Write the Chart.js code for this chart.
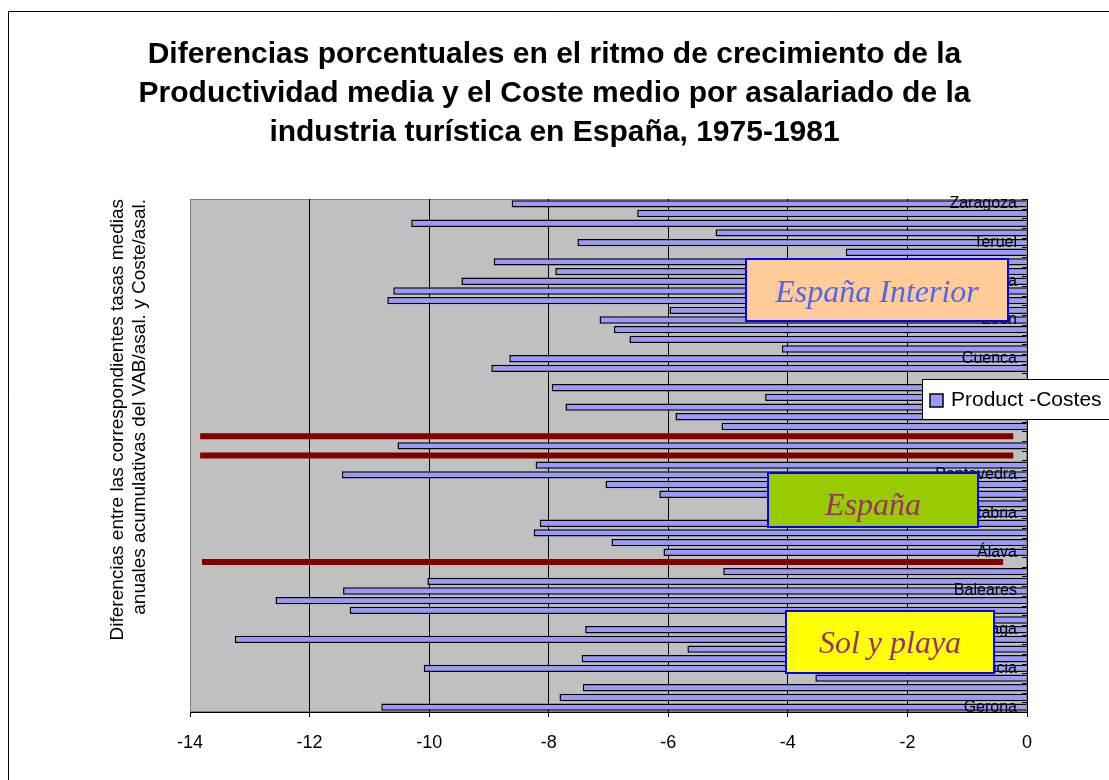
<!DOCTYPE html>
<html><head><meta charset="utf-8">
<script src="https://cdn.jsdelivr.net/npm/chart.js@4.4.0/dist/chart.umd.min.js"></script>
<style>html,body{margin:0;padding:0;background:#fff;}canvas{display:block;}</style>
</head><body>
<canvas id="c" width="1109" height="780"></canvas>
<script>
// ---- data (category index 0 = bottom of the chart, as in the original) ----
const categories = [
  'Gerona','Barcelona','Tarragona','Castellón','Valencia','Alicante','Murcia','Almería','Málaga','Cádiz',
  'Huelva','Las Palmas','Baleares','S.C. Tenerife','Granada','','Álava','Vizcaya','Guipúzcoa','Asturias',
  'Cantabria','Lugo','La Coruña','Orense','Pontevedra','Navarra','','España','','La Rioja',
  'Madrid','Toledo','Ciudad Real','Albacete','','Guadalajara','Cuenca','Valladolid','Palencia','Burgos',
  'León','Zamora','Salamanca','Ávila','Segovia','Soria','Cáceres','Badajoz','Teruel','Jaén',
  'Córdoba','Huesca','Zaragoza'
];
const productCostes = [
  -10.80, -7.82, -7.43, -3.54, -10.09, -7.45, -5.68, -13.25, -7.39, -2.60,
  -11.33, -12.57, -11.44, -10.03, -5.08, null, -6.08, -6.95, -8.25, -8.15,
  -2.20, -3.00, -6.15, -7.05, -11.46, -8.22, null, -10.53, null, -5.11,
  -5.88, -7.72, -4.38, -7.95, null, -8.96, -8.66, -4.10, -6.65, -6.91,
  -7.15, -5.98, -10.70, -10.60, -9.46, -7.89, -8.92, -3.03, -7.52, -5.21,
  -10.30, -6.52, -8.62
];
const separatorSpans = categories.map(() => null);
separatorSpans[15] = [-13.80, -0.40];
separatorSpans[26] = [-13.83, -0.23];
separatorSpans[28] = [-13.83, -0.23];
const xTickValues = [-14, -12, -10, -8, -6, -4, -2, 0];
const labelEvery = 4;
const seriesLabel = 'Product -Costes';
const titleLines = [
  'Diferencias porcentuales en el ritmo de crecimiento de la',
  'Productividad media y el Coste medio por asalariado de la',
  'industria turística en España, 1975-1981'
];
const axisTitleLines = [
  'Diferencias entre las correspondientes tasas medias',
  'anuales acumulativas del VAB/asal. y Coste/asal.'
];
const groupBoxes = [
  {text: 'España Interior', fill: '#FFCC99', color: '#5066F0', x0: 746, y0: 259, x1: 1008, y1: 321, dy: 12},
  {text: 'España', fill: '#99CC00', color: '#993366', x0: 768, y0: 473, x1: 978, y1: 527, dy: 15},
  {text: 'Sol y playa', fill: '#FFFF00', color: '#993366', x0: 786, y0: 611, x1: 994, y1: 673, dy: 11}
];

const SANS = '"Liberation Sans", Arial, Helvetica, sans-serif';
const SERIF = '"Liberation Serif", "Times New Roman", serif';

const decor = {
  id: 'decor',
  beforeDraw(chart) {
    const {ctx, chartArea: a} = chart;
    ctx.save();
    ctx.strokeStyle = '#000'; ctx.lineWidth = 1;
    ctx.beginPath(); ctx.moveTo(8.5, 780); ctx.lineTo(8.5, 11.5); ctx.lineTo(1109, 11.5); ctx.stroke();
    ctx.fillStyle = '#C0C0C0';
    ctx.fillRect(a.left, a.top, a.right - a.left, a.bottom - a.top);
    ctx.strokeStyle = '#808080';
    ctx.strokeRect(a.left + 0.5, a.top + 0.5, a.right - a.left - 1, a.bottom - a.top - 1);
    ctx.restore();
  },
  afterDraw(chart) {
    const {ctx, chartArea: a} = chart;
    const n = categories.length;
    ctx.save();
    // inner tick marks on the category axis
    ctx.strokeStyle = '#000'; ctx.lineWidth = 1;
    const step = (a.bottom - a.top) / n;
    ctx.beginPath();
    for (let k = 0; k <= n; k++) {
      const y = Math.round(a.top + k * step) + 0.5;
      ctx.moveTo(a.right - 5, y); ctx.lineTo(a.right, y);
    }
    ctx.stroke();
    // group text boxes
    groupBoxes.forEach(b => {
      ctx.save();
      ctx.fillStyle = b.fill;
      ctx.fillRect(b.x0, b.y0, b.x1 - b.x0, b.y1 - b.y0);
      ctx.beginPath(); ctx.rect(b.x0, b.y0, b.x1 - b.x0, b.y1 - b.y0); ctx.clip();
      ctx.fillStyle = b.color;
      ctx.font = 'italic 32px ' + SERIF;
      ctx.textAlign = 'center'; ctx.textBaseline = 'alphabetic';
      ctx.fillText(b.text, (b.x0 + b.x1) / 2, (b.y0 + b.y1) / 2 + b.dy);
      ctx.restore();
      ctx.strokeStyle = '#0000FF'; ctx.lineWidth = 2;
      ctx.strokeRect(b.x0, b.y0, b.x1 - b.x0, b.y1 - b.y0);
    });
    // legend
    ctx.fillStyle = '#fff';
    ctx.fillRect(922, 379, 200, 40);
    ctx.strokeStyle = '#000'; ctx.lineWidth = 1;
    ctx.strokeRect(922.5, 379.5, 200, 40);
    ctx.fillStyle = '#9999FF';
    ctx.fillRect(930, 394, 13, 13);
    ctx.lineWidth = 1.5;
    ctx.strokeRect(930, 394, 13, 13);
    ctx.fillStyle = '#000';
    ctx.font = '21px ' + SANS;
    ctx.textAlign = 'left'; ctx.textBaseline = 'middle';
    ctx.fillText(chart.data.datasets[0].label, 951, 400);
    ctx.restore();
  }
};

new Chart(document.getElementById('c'), {
  type: 'bar',
  data: {
    labels: categories,
    datasets: [
      {label: seriesLabel, data: productCostes, backgroundColor: '#9999FF', borderColor: '#000',
       borderWidth: 1.5, barPercentage: 0.76, categoryPercentage: 1, yAxisID: 'y', xAxisID: 'x'},
      {label: 'separadores', data: separatorSpans, backgroundColor: '#800000', borderWidth: 0,
       barPercentage: 0.62, categoryPercentage: 1, yAxisID: 'y', xAxisID: 'x'}
    ]
  },
  options: {
    indexAxis: 'y',
    responsive: false,
    animation: false,
    devicePixelRatio: 1,
    layout: {padding: 0},
    datasets: {bar: {grouped: false}},
    plugins: {
      legend: {display: false},
      tooltip: {enabled: false},
      title: {display: true, text: titleLines, color: '#000',
        font: {family: SANS, size: 30, weight: 'bold', lineHeight: 1.3},
        padding: {top: 35, bottom: 47}}
    },
    scales: {
      x: {
        type: 'linear', position: 'bottom', min: -14, max: 0,
        afterBuildTicks: s => { s.ticks = xTickValues.map(v => ({value: v})); },
        afterFit: s => { s.height = 68; },
        ticks: {color: '#000', font: {family: SANS, size: 18}, padding: 15},
        grid: {color: c => (c.tick && c.tick.value === -14) ? '#808080' : '#000', tickColor: '#000', tickLength: 5},
        border: {display: true, color: '#000', width: 1}
      },
      y: {
        type: 'category', position: 'right', reverse: true, offset: true,
        afterFit: s => { s.width = 82; },
        ticks: {mirror: true, autoSkip: false, padding: -10, z: 1, color: '#000', font: {family: SANS, size: 16},
          callback: (v, i) => (i % labelEvery === 0 ? categories[i] : '')},
        grid: {display: false},
        border: {display: true, color: '#000', width: 1}
      },
      yTitle: {
        type: 'linear', axis: 'y', position: 'left', display: true,
        afterFit: s => { s.width = 190; },
        ticks: {display: false}, grid: {display: false}, border: {display: false},
        title: {display: true, text: axisTitleLines, align: 'end', color: '#000',
          font: {family: SANS, size: 19, lineHeight: 1.16}, padding: {top: 107, bottom: 0}}
      }
    }
  },
  plugins: [decor]
});
</script>
</body></html>
